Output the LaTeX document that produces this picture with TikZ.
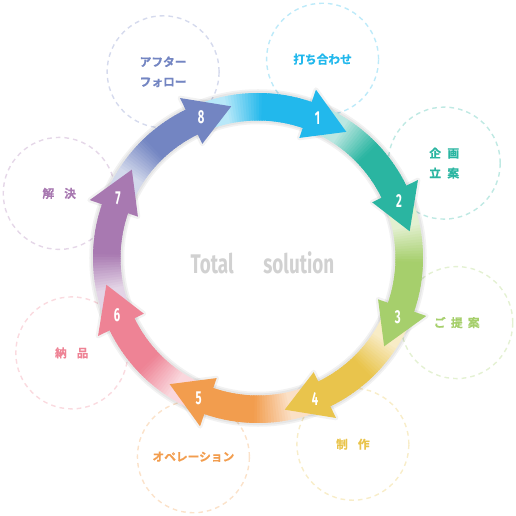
\documentclass[tikz,border=0pt]{standalone}
\usepackage{fontspec}
\newfontfamily\jpfont{Noto Sans CJK JP}[BoldFont={Noto Sans CJK JP Bold}, BoldFeatures={FakeBold=0.8}]
\newfontfamily\numfont{Fira Sans}[FakeStretch=0.6]
\newfontfamily\titlefont{Fira Sans}[FakeStretch=0.7]
\definecolor{c1}{HTML}{22B8EC}
\definecolor{c2}{HTML}{2AB5A1}
\definecolor{c3}{HTML}{A6CF6C}
\definecolor{c4}{HTML}{E9C44C}
\definecolor{c5}{HTML}{F29D4E}
\definecolor{c6}{HTML}{EE8395}
\definecolor{c7}{HTML}{A879B1}
\definecolor{c8}{HTML}{7385C2}

\begin{document}
\begin{tikzpicture}[
		x=0.03cm, y=0.03cm,
		stage/.style={circle, draw=#1!30, line width=1.2pt, dash pattern=on 4pt off 3.4pt, minimum size=3.36cm, text=#1, font=\jpfont\bfseries\fontsize{10}{17}\selectfont, align=center},
		num/.style={text=white, font=\numfont\bfseries\fontsize{16}{16}\selectfont},
		glow/.style={black, opacity=0.05, line join=round}
		]
		\useasboundingbox (-258,-258) rectangle (258,258);
		
		% Stages
		\node[stage=c1] (s1) at (72:209) {打ち合わせ};
		\node[stage=c2] (s2) at (27:209) {企\hspace{0.55em}画\\立\hspace{0.55em}案};
		\node[stage=c3] (s3) at (-18:209) {ご\hspace{0.45em}提\hspace{0.45em}案};
		\node[stage=c4] (s4) at (-63:209) {制\hspace{0.85em}作};
		\node[stage=c5] (s5) at (-108:209) {オペレーション};
		\node[stage=c6] (s6) at (-153:209) {納\hspace{0.85em}品};
		\node[stage=c7] (s7) at (162:209) {解\hspace{0.85em}決};
		\node[stage=c8] (s8) at (117:209) {アフター\\フォロー};
		
		% Shadow
		\draw[glow, line width=1.05cm] (0,0) circle[radius=151.25];
		\draw[glow, line width=0.95cm] (0,0) circle[radius=151.25];
		\foreach \i in {1,...,8}{
			\pgfmathsetmacro\tip{55-45*(\i-1)}
			\draw[glow, line width=4pt] (\tip+16:127) -- (\tip+16:178) -- (\tip:154) -- cycle;
		}
		
		% Ring
		\foreach \i/\col in {1/c1,2/c2,3/c3,4/c4,5/c5,6/c6,7/c7,8/c8}{
			\pgfmathsetmacro\tip{55-45*(\i-1)}
			\foreach \k in {0,...,40}{
				\pgfmathsetmacro\a{\tip+56-\k}
				\pgfmathtruncatemacro\p{min(100,max(32,32+5*(\k-9)))}
				\fill[\col!\p!white] (\a+0.6:137.5) arc[start angle=\a+0.6, end angle=\a-1, radius=137.5]
					-- (\a-1:165) arc[start angle=\a-1, end angle=\a+0.6, radius=165] -- cycle;
			}
		}
		
		% Heads
		\foreach \i/\col in {1/c1,2/c2,3/c3,4/c4,5/c5,6/c6,7/c7,8/c8}{
			\pgfmathsetmacro\tip{55-45*(\i-1)}
			\fill[\col] (\tip+16:127) -- (\tip+16:178) -- (\tip:154) -- cycle;
			\node[num] (n\i) at (\tip+12:152) {\i};
		}
		
		\node[font=\titlefont\bfseries\fontsize{23}{23}\selectfont, text=black!18] (title) at (4.5,-5) {Total\hspace{1.1em}solution};
		
	\end{tikzpicture}
\end{document}
